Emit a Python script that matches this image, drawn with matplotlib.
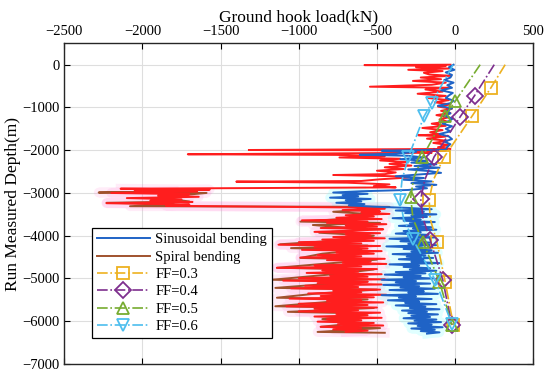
import numpy as np
import matplotlib
matplotlib.use("Agg")
import matplotlib.pyplot as plt

plt.rcParams['font.family'] = ['Liberation Serif', 'DejaVu Serif']

# ---- spiral bending, red trace (depth m, load kN) ----
red_depth = [0, -10, -30, -60, -90, -120, -150, -190, -230, -260, -300, -340, -380, -420, -470,
             -515, -540, -580, -630, -680, -730, -780, -830, -880, -930, -980, -1030, -1080, -1130,
             -1180, -1230, -1280, -1330, -1380, -1430, -1480, -1530, -1580, -1630, -1650, -1680,
             -1730, -1780, -1830, -1880, -1930, -1970,
             -1995, -2005, -2030, -2060, -2095, -2110, -2140, -2170, -2200, -2240, -2280, -2320,
             -2360, -2400, -2440, -2480, -2520, -2560, -2580, -2610, -2640, -2680, -2720, -2735,
             -2760, -2800, -2840, -2870,
             -2900, -2920, -2945, -2970, -3000, -3030, -3060, -3090, -3120, -3150, -3180, -3210,
             -3240, -3270, -3300,
             -3340, -3370, -3400, -3430, -3460, -3490, -3520, -3550, -3580, -3610, -3640, -3670,
             -3700, -3730, -3760, -3790, -3820, -3850, -3880, -3910, -3940, -3970, -4000, -4030,
             -4060, -4090, -4120, -4150, -4180, -4210, -4240, -4270, -4300, -4330, -4360, -4390,
             -4420, -4450, -4480, -4510, -4540, -4570, -4600, -4630, -4660, -4690, -4720, -4750,
             -4780, -4810, -4840, -4870, -4900, -4930, -4960, -4990, -5020, -5050, -5080, -5110,
             -5140, -5170, -5200, -5230, -5260, -5290, -5320, -5350, -5380, -5410, -5440, -5470,
             -5500, -5530, -5560, -5590, -5620, -5650, -5680, -5710, -5740, -5770, -5800, -5830,
             -5860, -5890, -5920, -5950, -5980, -6010, -6040, -6070, -6100, -6130, -6160, -6190,
             -6220, -6250]
red_load = [-30, -580, -60, -250, -40, -300, -80, -200, -165, -30, -220, -90, -270, -60, -150,
            -545, -40, -190, -80, -240, -60, -170, -40, -130, -30, -110, -20, -90, -30,
            -120, -40, -100, -50, -150, -60, -210, -80, -160, -90, -235, -60,
            -180, -50, -140, -40, -110, -30,
            -1320, -60, -300, -150, -1710, -760, -450, -740, -350, -480, -300, -420,
            -280, -450, -330, -500, -380, -450, -780, -380, -300, -480, -600, -1400,
            -690, -420, -520, -380,
            -2140, -1570, -2050, -1650, -2200, -1700, -1900, -1640, -2100, -1750, -1950, -1680,
            -2230, -1700, -1850,
            -650, -450, -720, -480, -600, -420, -700, -520, -760, -470, -980, -560,
            -820, -440, -700, -500, -860, -460, -640, -900, -480, -700, -540, -780,
            -450, -850, -520, -1000, -600, -1130, -480, -900, -560, -980, -470, -760,
            -520, -880, -600, -990, -450, -820, -540, -720, -440, -900, -600, -1140,
            -500, -850, -620, -950, -470, -800, -560, -1000, -450, -1100, -560, -880,
            -470, -960, -620, -1050, -480, -780, -600, -940, -440, -860, -520, -1060,
            -600, -820, -460, -1000, -560, -1080, -500, -900, -620, -1000, -480, -760,
            -560, -900, -470, -820, -600, -880, -520, -750, -460, -860, -600, -780,
            -560, -700]

# ---- spiral bending, brown trace ----
brown_depth = [-2960, -2990, -3000, -3100, -3200, -3230, -3260, -3310, -3325, -3400, -3440, -3500,
               -3600, -3670, -3700, -3750, -3850, -3930, -4000, -4100, -4200, -4230, -4290, -4330,
               -4420, -4520, -4560, -4650, -4750, -4790, -4900, -5030, -5070, -5150, -5220, -5260,
               -5350, -5450, -5490, -5550, -5650, -5690, -5780, -5820, -5950, -6050, -6130, -6160,
               -6250, -6270]
brown_load = [-1800, -2280, -1590, -1900, -1700, -2230, -1800, -2080, -420, -600, -780, -520,
              -680, -990, -480, -910, -560, -870, -520, -700, -1120, -560, -1050, -600,
              -850, -990, -500, -820, -1140, -520, -780, -1170, -560, -900, -1150, -500,
              -880, -1140, -560, -820, -1150, -520, -1070, -560, -850, -640, -860, -480,
              -880, -450]

# ---- sinusoidal bending ----
sin_depth = [0, -60, -120, -180, -240, -300, -360, -420, -480, -540, -600, -660, -720, -780, -840,
             -900, -960, -1020, -1080, -1140, -1200, -1260, -1320, -1380, -1440, -1500, -1560,
             -1620, -1680, -1740, -1800, -1860, -1920,
             -1990, -2010, -2040, -2080, -2107, -2130, -2170, -2210, -2250, -2290, -2330, -2370,
             -2410, -2450, -2490, -2530, -2570, -2610, -2650, -2690, -2730, -2770, -2810, -2850,
             -2890, -2930,
             -2960, -2990, -3020, -3050, -3080, -3110, -3140, -3170, -3200, -3230, -3260, -3290,
             -3320,
             -3350, -3380, -3410, -3440, -3470, -3500, -3530, -3560, -3590, -3620, -3650, -3680,
             -3710, -3740, -3770, -3800, -3830, -3860, -3890, -3920, -3950, -3980, -4010, -4040,
             -4070, -4100, -4130, -4160, -4190, -4220, -4250, -4280, -4310, -4340, -4370, -4400,
             -4430, -4460, -4490, -4520, -4550, -4580, -4610, -4640, -4670, -4700, -4730, -4760,
             -4790, -4820, -4850, -4880, -4910, -4940, -4970, -5000, -5030, -5060, -5090, -5120,
             -5150, -5180, -5210, -5240, -5270, -5300, -5330, -5360, -5390, -5420, -5450, -5480,
             -5510, -5540, -5570, -5600, -5630, -5660, -5690, -5720, -5750, -5780, -5810, -5840,
             -5870, -5900, -5930, -5960, -5990, -6020, -6050, -6080, -6110, -6140, -6170, -6200,
             -6230, -6260, -6290]
sin_load = [-10, -40, -5, -60, -20, -30, -70, -10, -50, -20, -90, -15, -40, -60, -10,
            -30, -110, -20, -50, -30, -70, -15, -40, -80, -20, -60, -30,
            -100, -40, -20, -70, -30, -50,
            -60, -470, -250, -380, -610, -300, -200, -350, -180, -280, -120, -260,
            -100, -300, -160, -90, -240, -380, -200, -330, -150, -280, -120, -250,
            -180, -300,
            -600, -780, -560, -720, -620, -800, -540, -700, -600, -760, -580, -680,
            -520,
            -300, -150, -380, -200, -320, -120, -280, -180, -400, -220, -330, -130,
            -290, -200, -360, -150, -270, -120, -330, -220, -380, -170, -300, -130,
            -420, -230, -350, -160, -300, -120, -440, -210, -330, -150, -280, -110,
            -400, -190, -310, -140, -360, -200, -280, -100, -420, -230, -330, -160,
            -290, -120, -380, -190, -450, -220, -330, -140, -470, -250, -380, -160,
            -460, -230, -350, -130, -420, -200, -300, -110, -470, -250, -360, -150,
            -430, -230, -320, -120, -380, -190, -290, -100, -340, -180, -300, -110,
            -280, -160, -330, -120, -260, -90, -300, -150, -240, -80, -280, -130,
            -220, -100, -180]

# ---- friction factor curves ----
ff03_depth = [0, -546, -1210, -2160, -2700, -3160, -3600, -4137, -5073, -6088]
ff03_load = [320, 228, 107, -70, -140, -166, -160, -117, -64, -11]
ff04_depth = [0, -726, -1225, -2160, -2700, -3145, -3600, -4097, -5034, -6088]
ff04_load = [250, 124, 31, -135, -195, -220, -205, -160, -79, -21]
ff05_depth = [0, -858, -1194, -2160, -2650, -3098, -3600, -4137, -5073, -6088]
ff05_load = [160, 0, -64, -209, -265, -284, -270, -207, -100, -21]
ff06_depth = [0, -897, -1210, -2160, -2700, -3160, -3600, -4081, -5034, -6065]
ff06_load = [-13, -150, -199, -299, -340, -352, -330, -271, -128, -21]
ff_marker_idx = [1, 2, 3, 5, 7, 8, 9]

fig = plt.figure(figsize=(5.5, 3.76), dpi=100)
ax = fig.add_axes([64.3 / 550, 12 / 376, 469 / 550, 320.7 / 376])

red_d = np.array(red_depth)
red_l = np.array(red_load)
brown_d = np.array(brown_depth)
brown_l = np.array(brown_load)
sin_d = np.array(sin_depth)
sin_l = np.array(sin_load)

# soft halo behind the deeper part of the traces
m = red_d <= -2880
ax.plot(red_l[m], red_d[m], color='#ff66cc', lw=7, alpha=0.12, zorder=1)
ax.plot(brown_l, brown_d, color='#ff66cc', lw=7, alpha=0.12, zorder=1)
m = sin_d <= -2950
ax.plot(sin_l[m], sin_d[m], color='#55ffff', lw=7, alpha=0.18, zorder=1)

h_spiral, = ax.plot(brown_l, brown_d, color='#a0522d', lw=1.4, zorder=2, label='Spiral bending')
ax.plot(red_l, red_d, color='#ff1e1e', lw=1.4, zorder=3)
h_sin, = ax.plot(sin_l, sin_d, color='#1f63c6', lw=1.4, zorder=4, label='Sinusoidal bending')

ff_style = dict(ls='-.', lw=1.2, ms=8, mfc='none', mew=1.3, zorder=5, markevery=ff_marker_idx)
h03, = ax.plot(ff03_load, ff03_depth, color='#edb120', marker='s', label='FF=0.3', **ff_style)
h04, = ax.plot(ff04_load, ff04_depth, color='#7e2f8e', marker='D', label='FF=0.4', **ff_style)
h05, = ax.plot(ff05_load, ff05_depth, color='#77ac30', marker='^', label='FF=0.5', **ff_style)
h06, = ax.plot(ff06_load, ff06_depth, color='#4dbeee', marker='v', label='FF=0.6', **ff_style)

ax.set_xlim(-2500, 500)
ax.set_ylim(-7000, 500)
ax.set_xticks(np.arange(-2500, 501, 500))
ax.set_yticks(np.arange(-7000, 1, 1000))
ax.grid(True, color='#dedede', lw=0.8)
ax.set_axisbelow(True)

ax.xaxis.tick_top()
ax.xaxis.set_label_position('top')
ax.tick_params(direction='in', top=True, bottom=True, left=True, right=True,
               labeltop=True, labelbottom=False, labelsize=10.5, length=4, width=0.8)
for s in ax.spines.values():
    s.set_color('#262626')
    s.set_linewidth(1.0)

ax.set_xlabel('Ground hook load(kN)', fontsize=12.5, labelpad=3)
ax.set_ylabel('Run Measured Depth(m)', fontsize=12.5, labelpad=1)

leg = ax.legend(handles=[h_sin, h_spiral, h03, h04, h05, h06], loc='lower left',
                bbox_to_anchor=(0.059, 0.081), borderaxespad=0, fontsize=10.5,
                handlelength=3.6, handletextpad=0.4, labelspacing=0.28,
                fancybox=False, framealpha=1, edgecolor='black', borderpad=0.35)
leg.get_frame().set_linewidth(0.9)

fig.savefig('out.png', dpi=100)
